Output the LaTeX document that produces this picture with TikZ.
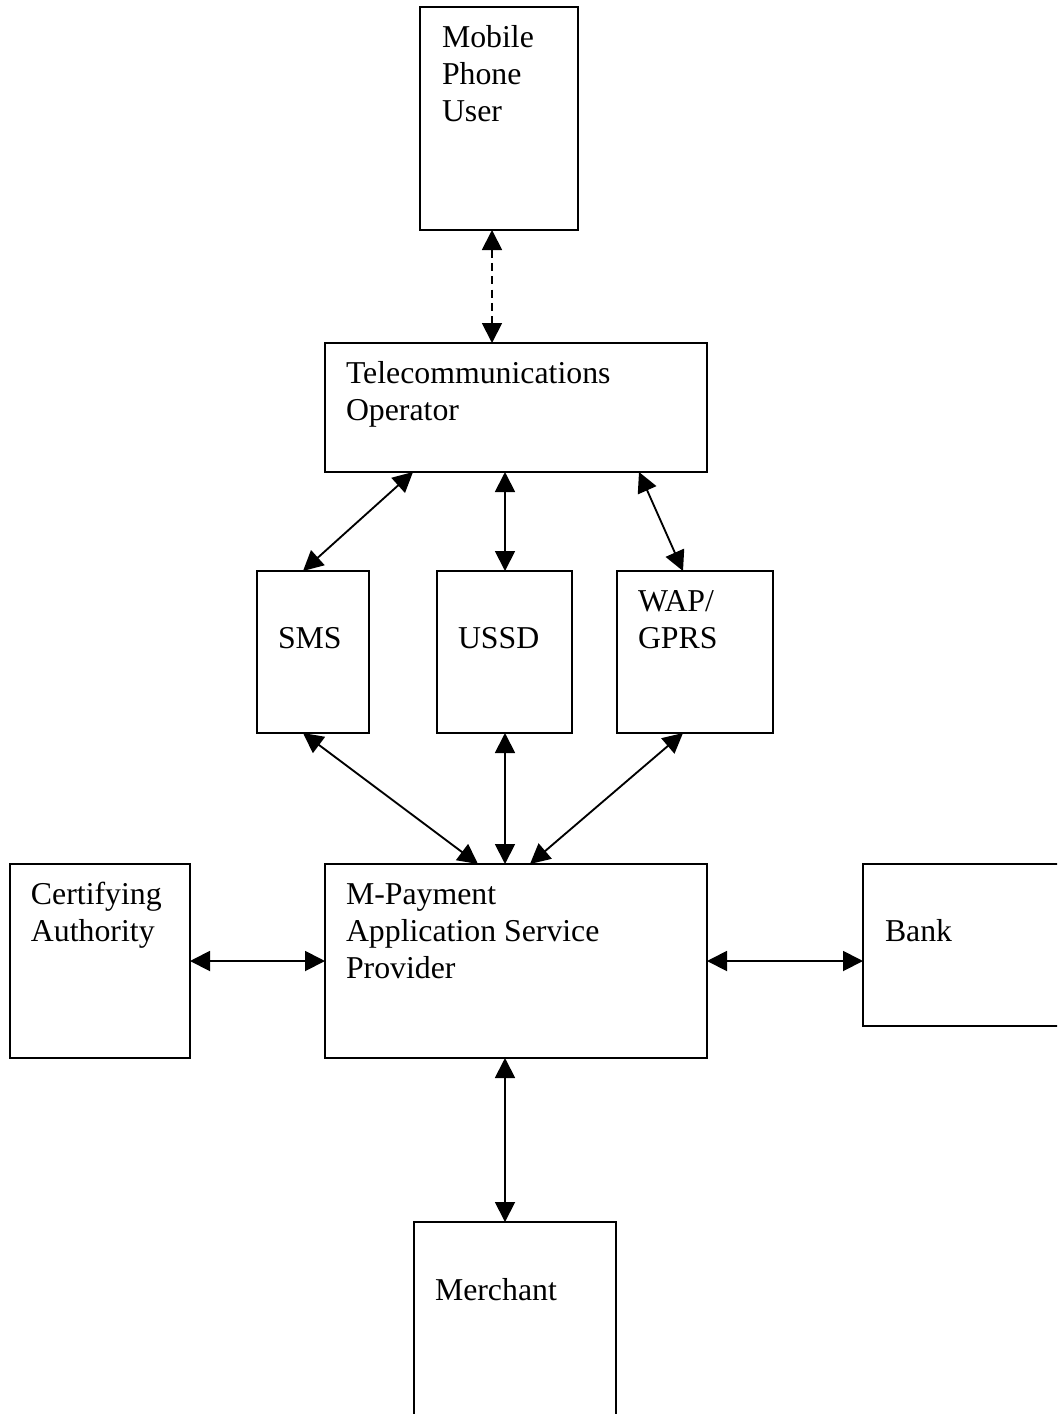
\documentclass[tikz,border=0pt]{standalone}
\usepackage{fontspec}
\setmainfont{Liberation Serif}
\usetikzlibrary{arrows.meta,calc}
\tikzset{
  box/.style={draw, line width=1.5pt, rectangle, anchor=north west, inner sep=0pt, outer sep=0pt},
  txt/.style={anchor=north west, inner sep=0pt, outer sep=0pt, align=left,
    font=\fontsize{23.85}{27.75}\selectfont},
  link/.style={line width=1.4pt, {Triangle[length=15pt,width=15pt]}-{Triangle[length=15pt,width=15pt]}},
  dlink/.style={link, dash pattern=on 6pt off 4pt}
}
\begin{document}
\begin{tikzpicture}[x=0.75pt,y=-0.75pt]
\clip (0,0) rectangle (1057,1414);
% boxes
\node[box, minimum width=158*0.75pt, minimum height=223*0.75pt] (mpu) at (420,7) {};
\node[box, minimum width=382*0.75pt, minimum height=129*0.75pt] (tel) at (325,343) {};
\node[box, minimum width=112*0.75pt, minimum height=162*0.75pt] (sms) at (257,571) {};
\node[box, minimum width=135*0.75pt, minimum height=162*0.75pt] (ussd) at (437,571) {};
\node[box, minimum width=156*0.75pt, minimum height=162*0.75pt] (wap) at (617,571) {};
\node[box, minimum width=180*0.75pt, minimum height=194*0.75pt] (ca) at (10,864) {};
\node[box, minimum width=382*0.75pt, minimum height=194*0.75pt] (mp) at (325,864) {};
\node[box, minimum width=230*0.75pt, minimum height=162*0.75pt] (bank) at (863,864) {};
\node[box, minimum width=202*0.75pt, minimum height=230*0.75pt] (mer) at (414,1222) {};
% texts
\node[txt] (tmpu) at ($(mpu.north west)+(22,14.1)$) {\strut Mobile\\Phone\\User};
\node[txt] (ttel) at ($(tel.north west)+(21,14.1)$) {\strut Telecommunications\\Operator};
\node[txt] (tsms) at ($(sms.north west)+(21,51.1)$) {\strut SMS};
\node[txt] (tussd) at ($(ussd.north west)+(21,51.1)$) {\strut USSD};
\node[txt] (twap) at ($(wap.north west)+(21,14.1)$) {\strut WAP/\\GPRS};
\node[txt] (tca) at ($(ca.north west)+(21,14.1)$) {\strut Certifying\\Authority};
\node[txt] (tmp) at ($(mp.north west)+(21,14.1)$) {\strut M-Payment\\Application Service\\Provider};
\node[txt] (tbank) at ($(bank.north west)+(22,51.1)$) {\strut Bank};
\node[txt] (tmer) at ($(mer.north west)+(21,52.1)$) {\strut Merchant};
% connectors
\draw[dlink] ($(mpu.south west)+(72,0)$) -- ($(tel.north west)+(167,0)$);
\draw[link] ($(sms.north west)+(46,0)$) -- ($(tel.south west)+(88,0)$);
\draw[link] ($(ussd.north west)+(68,0)$) -- ($(tel.south west)+(180,0)$);
\draw[link] ($(wap.north west)+(66,0)$) -- ($(tel.south west)+(314,0)$);
\draw[link] ($(sms.south west)+(46,0)$) -- ($(mp.north west)+(153,0)$);
\draw[link] ($(ussd.south west)+(68,0)$) -- ($(mp.north west)+(180,0)$);
\draw[link] ($(wap.south west)+(66,0)$) -- ($(mp.north west)+(205,0)$);
\draw[link] (ca.east) -- (ca.east -| mp.west);
\draw[link] (mp.east) -- (mp.east -| bank.west);
\draw[link] ($(mp.south west)+(180,0)$) -- ($(mer.north west)+(91,0)$);
\end{tikzpicture}
\end{document}
